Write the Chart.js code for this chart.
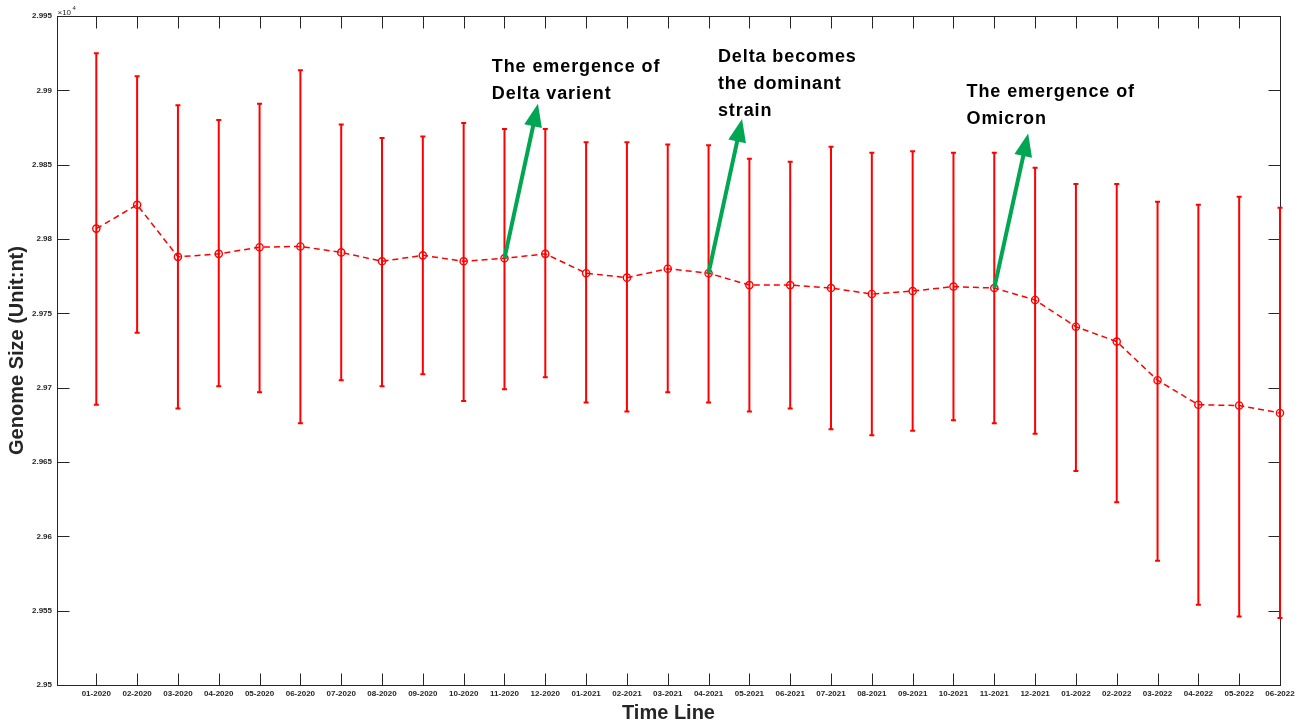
<!DOCTYPE html>
<html><head><meta charset="utf-8">
<script src="https://cdn.jsdelivr.net/npm/chart.js@4.4.1/dist/chart.umd.min.js"></script>
<style>html,body{margin:0;padding:0;background:#fff}#wrap{width:1308px;height:725px;position:relative}</style>
</head><body><div id="wrap"><canvas id="c" width="1308" height="725"></canvas></div>
<script>
const categories = ['01-2020','02-2020','03-2020','04-2020','05-2020','06-2020','07-2020','08-2020','09-2020','10-2020','11-2020','12-2020',
  '01-2021','02-2021','03-2021','04-2021','05-2021','06-2021','07-2021','08-2021','09-2021','10-2021','11-2021','12-2021',
  '01-2022','02-2022','03-2022','04-2022','05-2022','06-2022'];
const meanSize = [29807, 29823, 29788, 29790, 29794.5, 29795, 29791, 29785, 29789, 29785, 29787, 29790,
  29777, 29774, 29780, 29777, 29769, 29769, 29767, 29763, 29765, 29768, 29767, 29759,
  29741, 29731, 29705, 29688.5, 29688, 29683];
const upperSize = [29925, 29909.5, 29890, 29880, 29891, 29913.5, 29877, 29868, 29869, 29878, 29874, 29874,
  29865, 29865, 29863.5, 29863, 29854, 29852, 29862, 29858, 29859, 29858, 29858, 29848,
  29837, 29837, 29825, 29823, 29828.5, 29821];
const lowerSize = [29688.5, 29737, 29686, 29701, 29697, 29676, 29705, 29701, 29709, 29691, 29699, 29707,
  29690, 29684, 29697, 29690, 29684, 29686, 29672, 29668, 29671, 29678, 29676, 29669,
  29644, 29623, 29583.5, 29554, 29546, 29545];
const yTicks = [29500, 29550, 29600, 29650, 29700, 29750, 29800, 29850, 29900, 29950];

// annotation anchors (data coordinates): arrow starts at a category's mean, tip & text in data units
const notes = [
  {startIndex: 10, tip: [11.82, 29891], textAt: [10.69, 29912.4], lines: ['The emergence of', 'Delta varient']},
  {startIndex: 15, tip: [16.82, 29880.8], textAt: [16.23, 29919.2], lines: ['Delta becomes', 'the dominant', 'strain']},
  {startIndex: 22, tip: [23.83, 29871], textAt: [22.32, 29895.3], lines: ['The emergence of', 'Omicron']}
];

const AXIS = '#262626';
const RED = '#ff0000';
const GREEN = '#00a651';
const FONT = '"Liberation Sans", Arial, Helvetica, sans-serif';

const framePlugin = {
  id: 'frame',
  beforeDatasetsDraw(chart) {
    const {ctx, chartArea: a, scales: {x, y}} = chart;
    ctx.save();
    ctx.strokeStyle = AXIS;
    ctx.lineWidth = 1;
    const L = Math.round(a.left) + 0.5, R = Math.round(a.right) + 0.5;
    const T = Math.round(a.top) + 0.5, B = Math.round(a.bottom) + 0.5;
    ctx.strokeRect(L, T, R - L, B - T);
    const tl = 12;
    ctx.beginPath();
    x.ticks.forEach(t => {
      const px = Math.round(x.getPixelForValue(t.value)) + 0.5;
      ctx.moveTo(px, B); ctx.lineTo(px, B - tl);
      ctx.moveTo(px, T); ctx.lineTo(px, T + tl);
    });
    y.ticks.forEach(t => {
      const py = Math.round(y.getPixelForValue(t.value)) + 0.5;
      ctx.moveTo(L, py); ctx.lineTo(L + tl, py);
      ctx.moveTo(R, py); ctx.lineTo(R - tl, py);
    });
    ctx.stroke();
    // exponent label
    ctx.fillStyle = AXIS;
    ctx.textBaseline = 'alphabetic';
    ctx.font = '8px ' + FONT;
    ctx.fillText('\u00d710', L, 15);
    ctx.font = '6px ' + FONT;
    ctx.fillText('4', L + 15, 10);
    // error bars
    ctx.strokeStyle = RED;
    ctx.lineWidth = 2;
    ctx.beginPath();
    categories.forEach((c, i) => {
      const px = x.getPixelForValue(i + 1);
      const pt = y.getPixelForValue(upperSize[i]);
      const pb = y.getPixelForValue(lowerSize[i]);
      ctx.moveTo(px, pt); ctx.lineTo(px, pb);
      ctx.moveTo(px - 2.5, pt); ctx.lineTo(px + 2.5, pt);
      ctx.moveTo(px - 2.5, pb); ctx.lineTo(px + 2.5, pb);
    });
    ctx.stroke();
    ctx.restore();
  },
  afterDatasetsDraw(chart) {
    const {ctx, scales: {x, y}} = chart;
    ctx.save();
    notes.forEach(n => {
      const sx = x.getPixelForValue(n.startIndex + 1), sy = y.getPixelForValue(meanSize[n.startIndex]);
      const tx = x.getPixelForValue(n.tip[0]), ty = y.getPixelForValue(n.tip[1]);
      const dx = tx - sx, dy = ty - sy, len = Math.hypot(dx, dy);
      const ux = dx / len, uy = dy / len, nx = -uy, ny = ux;
      const hl = 23, hw = 9;
      const bx = tx - ux * hl, by = ty - uy * hl;
      ctx.strokeStyle = GREEN; ctx.fillStyle = GREEN;
      ctx.lineWidth = 4; ctx.lineCap = 'butt';
      ctx.beginPath(); ctx.moveTo(sx, sy); ctx.lineTo(bx + ux * 2, by + uy * 2); ctx.stroke();
      ctx.beginPath();
      ctx.moveTo(tx, ty);
      ctx.lineTo(bx + nx * hw, by + ny * hw);
      ctx.lineTo(bx - nx * hw, by - ny * hw);
      ctx.closePath(); ctx.fill();
      // text
      const lx = x.getPixelForValue(n.textAt[0]), ly = y.getPixelForValue(n.textAt[1]);
      ctx.fillStyle = '#000';
      ctx.font = 'bold 18px ' + FONT;
      ctx.letterSpacing = '0.9px';
      ctx.textBaseline = 'alphabetic';
      ctx.textAlign = 'left';
      n.lines.forEach((t, k) => ctx.fillText(t, lx, ly + k * 27));
    });
    ctx.restore();
  }
};

new Chart(document.getElementById('c'), {
  type: 'line',
  data: {
    datasets: [{
      data: categories.map((c, i) => ({x: i + 1, y: meanSize[i]})),
      borderColor: RED,
      borderWidth: 1.5,
      borderDash: [6, 4],
      pointStyle: 'circle',
      pointRadius: 3.6,
      pointBorderWidth: 1.4,
      pointBorderColor: RED,
      pointBackgroundColor: 'rgba(0,0,0,0)',
      tension: 0,
      clip: false
    }]
  },
  options: {
    responsive: false,
    animation: false,
    events: [],
    layout: {padding: {top: 16, right: 28, left: 0, bottom: 0}},
    plugins: {legend: {display: false}, tooltip: {enabled: false}},
    scales: {
      x: {
        type: 'linear',
        min: 0.037, max: 30,
        grid: {display: false, drawTicks: false},
        border: {display: false},
        afterBuildTicks: s => { s.ticks = categories.map((c, i) => ({value: i + 1})); },
        afterFit: s => { s.height = 40; },
        ticks: {
          autoSkip: false, maxRotation: 0, minRotation: 0, padding: 4,
          color: AXIS, font: {family: FONT, size: 8, weight: 'bold'},
          callback: v => categories[Math.round(v) - 1]
        },
        title: {display: true, text: 'Time Line', color: AXIS, padding: {top: 0, bottom: 0},
          font: {family: FONT, size: 20, weight: 'bold'}}
      },
      y: {
        type: 'linear',
        min: 29500, max: 29950,
        grid: {display: false, drawTicks: false},
        border: {display: false},
        afterBuildTicks: s => { s.ticks = yTicks.map(v => ({value: v})); },
        afterFit: s => { s.width = 57; },
        ticks: {
          padding: 5, color: AXIS, font: {family: FONT, size: 8, weight: 'bold'},
          callback: v => String(+(v / 10000).toFixed(4))
        },
        title: {display: true, text: 'Genome Size (Unit:nt)', color: AXIS, padding: {top: 5.5, bottom: 0},
          font: {family: FONT, size: 20, weight: 'bold'}}
      }
    }
  },
  plugins: [framePlugin]
});
</script></body></html>
